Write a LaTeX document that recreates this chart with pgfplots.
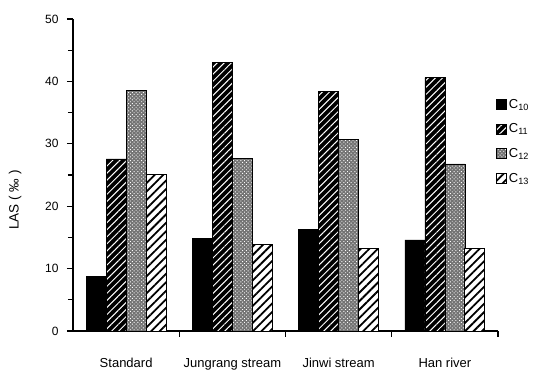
\documentclass[border=0pt]{standalone}
\usepackage{pgfplots}
\pgfplotsset{compat=1.18}
\usepackage{fontspec}
\setmainfont{Liberation Sans}
\usetikzlibrary{patterns.meta}

\begin{document}
\begin{tikzpicture}
\begin{axis}[
  scale only axis,
  width=425pt, height=312pt,
  ybar=0pt, bar width=20pt,
  xmin=-0.5, xmax=3.5,
  ymin=0, ymax=50,
  axis x line*=bottom, axis y line*=left,
  axis line style={-, line width=1.4pt},
  % group boundaries carry the ticks, group centres carry the names
  xtick={0.5,1.5,2.5,3.5},
  xticklabels={},
  extra x ticks={0,1,2,3},
  extra x tick labels={Standard, Jungrang stream, Jinwi stream, Han river},
  extra x tick style={major tick length=0pt,
    tick label style={font=\fontsize{13}{14}\selectfont, yshift=-24pt}},
  ytick={0,10,20,30,40,50},
  minor ytick={5,15,25,35,45},
  tick align=outside,
  major tick length=6pt, minor tick length=5pt,
  tick style={line width=1.1pt, black},
  /pgf/number format/assume math mode=true,
  yticklabel style={font=\fontsize{12}{14}\selectfont, xshift=-5pt},
  ylabel={LAS ( ‰ )},
  ylabel style={font=\fontsize{13.5}{15}\selectfont, at={(axis description cs:-0.136,0.42)}, anchor=center},
  legend style={draw=none, fill=none, inner sep=0pt,
    at={(axis description cs:0.995,0.75)}, anchor=north west,
    font=\fontsize{13}{14}\selectfont, row sep=10pt,
    legend cell align=left},
  legend image code/.code={\draw[#1] (0pt,-5pt) rectangle (10pt,5pt);},
]
% C10: solid black
\addplot[draw=black, fill=black] coordinates {(0,8.8) (1,14.8) (2,16.3) (3,14.6)};
% C11: black with white diagonal stripes
\addplot[draw=black, fill=black,
  postaction={pattern={Lines[angle=45,distance=5pt,line width=1pt]}, pattern color=white}]
  coordinates {(0,27.6) (1,43.1) (2,38.4) (3,40.6)};
% C12: grey dotted crosshatch
\addplot[draw=black, fill=black!55,
  postaction={pattern={Dots[distance=2.6pt,radius=0.65pt,angle=45]}, pattern color=white}]
  coordinates {(0,38.6) (1,27.7) (2,30.7) (3,26.8)};
% C13: white with black diagonal stripes
\addplot[draw=black, line width=0.8pt, fill=white,
  postaction={pattern={Lines[angle=45,distance=6pt,line width=1.8pt]}, pattern color=black}]
  coordinates {(0,25.1) (1,13.9) (2,13.2) (3,13.2)};
\legend{C\textsubscript{10}, C\textsubscript{11}, C\textsubscript{12}, C\textsubscript{13}}
\end{axis}
\pgfresetboundingbox
\path[use as bounding box] (-73pt,-41pt) rectangle (471pt,331pt);
\end{tikzpicture}
\end{document}
